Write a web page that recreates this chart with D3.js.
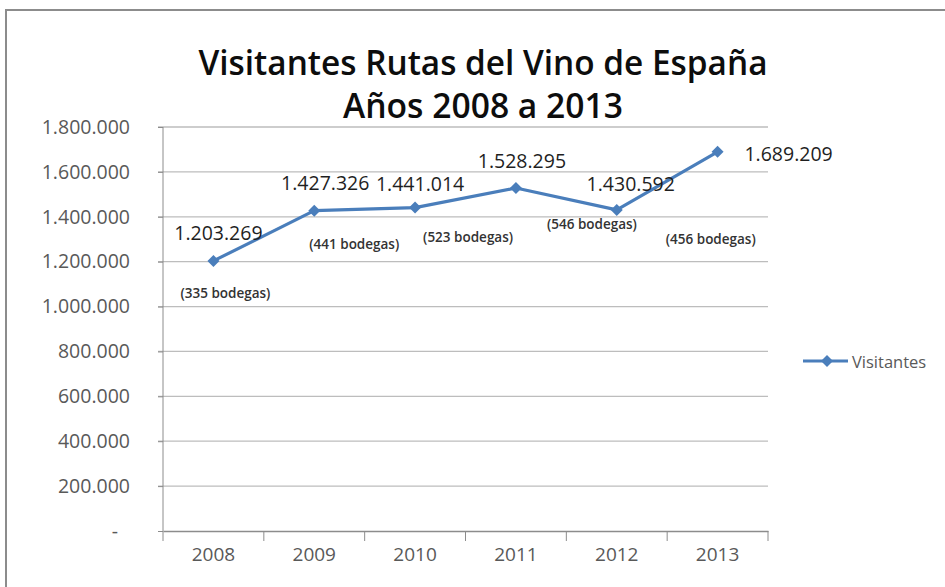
<!DOCTYPE html>
<html><head><meta charset="utf-8">
<script src="https://cdn.jsdelivr.net/npm/d3@7"></script>
<style>body{margin:0;background:#fff}svg{display:block}</style>
</head><body>
<script>
const years = ["2008","2009","2010","2011","2012","2013"];
const visitantes = [1203269, 1427326, 1441014, 1528295, 1430592, 1689209];
const bodegas = [335, 441, 523, 546, 456, null];
const yTicks = [0, 200000, 400000, 600000, 800000, 1000000, 1200000, 1400000, 1600000, 1800000];
const titleLines = ["Visitantes Rutas del Vino de España", "Años 2008 a 2013"];
const seriesName = "Visitantes";

// layout offsets for the labels (not data)
const valOff = [[5,-28],[11,-28],[5,-24],[6,-27],[14,-26],[71,2]];
const bodOff = [[12,32],[40,33],[53,29],[76,36],[94,29],[0,0]];

const W = 945, H = 587;
const svg = d3.select("body").append("svg").attr("width", W).attr("height", H);
const font = "'Open Sans', sans-serif";
const loc = d3.formatLocale({decimal:",", thousands:".", grouping:[3], currency:["",""]});
const fmt = loc.format(",d");

// frame
svg.append("path").attr("d", `M6,${H} V10 H${W}`).attr("fill","none").attr("stroke","#8c8c8c").attr("stroke-width",2);

const x = d3.scaleBand().domain(years).range([163, 768]);
const y = d3.scaleLinear().domain([0, 1800000]).range([531, 127]);
const cx = d => x(d) + x.bandwidth()/2;

// gridlines
svg.append("g").selectAll("line").data(yTicks.filter(t => t > 0)).join("line")
  .attr("x1", 158).attr("x2", 768).attr("y1", d => y(d)).attr("y2", d => y(d))
  .attr("stroke", "#bdbdbd").attr("stroke-width", 1.3);

// y axis
const yAxis = d3.axisLeft(y).tickValues(yTicks).tickSize(5).tickPadding(28)
  .tickFormat(d => d === 0 ? "-" : fmt(d));
const gy = svg.append("g").attr("transform", "translate(163,0)").call(yAxis);
gy.select(".domain").attr("stroke", "#8c8c8c").attr("d", "M0,127V531");
gy.selectAll(".tick line").attr("stroke", "#8c8c8c");
gy.selectAll("text").attr("font-family", font).attr("font-size", 19.5).attr("fill", "#595959");
gy.selectAll(".tick").filter(d => d === 0).select("text").attr("dx", -12);

// x axis
const xAxis = d3.axisBottom(x).tickSize(0).tickPadding(17);
const gx = svg.append("g").attr("transform", "translate(0,531)").call(xAxis);
gx.select(".domain").attr("stroke", "#8c8c8c").attr("stroke-width", 1.3);
gx.selectAll("text").attr("font-family", font).attr("font-size", 19).attr("fill", "#595959");
gx.append("g").selectAll("line").data(years.concat(["end"])).join("line")
  .attr("x1", (d,i) => i < years.length ? x(d) : x(years[years.length-1]) + x.bandwidth())
  .attr("x2", (d,i) => i < years.length ? x(d) : x(years[years.length-1]) + x.bandwidth())
  .attr("y1", 0).attr("y2", 10).attr("stroke", "#8c8c8c");

// line
const color = "#4a7ebb";
const line = d3.line().x((d,i) => cx(years[i])).y(d => y(d));
svg.append("path").datum(visitantes).attr("d", line).attr("fill","none")
  .attr("stroke", color).attr("stroke-width", 3.2).attr("stroke-linejoin","round");
const diamond = d3.symbol().type(d3.symbolSquare).size(72);
svg.append("g").selectAll("path").data(visitantes).join("path")
  .attr("d", diamond).attr("fill", color)
  .attr("transform", (d,i) => `translate(${cx(years[i])},${y(d)}) rotate(45)`);

// value labels
svg.append("g").selectAll("text").data(visitantes).join("text")
  .attr("x", (d,i) => cx(years[i]) + valOff[i][0])
  .attr("y", (d,i) => y(d) + valOff[i][1])
  .attr("text-anchor", "middle").attr("dominant-baseline", "central")
  .attr("font-family", font).attr("font-size", 19.5).attr("font-weight", 500).attr("fill", "#1f1f1f")
  .text(d => fmt(d));

// bodegas labels
svg.append("g").selectAll("text").data(bodegas.map((b,i) => ({b,i})).filter(d => d.b != null)).join("text")
  .attr("x", d => cx(years[d.i]) + bodOff[d.i][0])
  .attr("y", d => y(visitantes[d.i]) + bodOff[d.i][1])
  .attr("text-anchor", "middle").attr("dominant-baseline", "central")
  .attr("font-family", font).attr("font-size", 13.5).attr("font-weight", 600).attr("fill", "#333")
  .text(d => `(${d.b} bodegas)`);

// title
svg.append("text").attr("x", 483).attr("y", 75).attr("text-anchor","middle")
  .attr("font-family", font).attr("font-size", 35).attr("font-weight", 600).attr("fill", "#0d0d0d")
  .attr("textLength", 569).attr("lengthAdjust", "spacingAndGlyphs").text(titleLines[0]);
svg.append("text").attr("x", 483).attr("y", 118).attr("text-anchor","middle")
  .attr("font-family", font).attr("font-size", 35).attr("font-weight", 600).attr("fill", "#0d0d0d")
  .attr("textLength", 280).attr("lengthAdjust", "spacingAndGlyphs").text(titleLines[1]);

// legend
const lg = svg.append("g").attr("transform", "translate(803,361)");
lg.append("line").attr("x1", 0).attr("x2", 45).attr("y1", 0).attr("y2", 0).attr("stroke", color).attr("stroke-width", 3.2);
lg.append("path").attr("d", diamond).attr("fill", color).attr("transform", "translate(24,0) rotate(45)");
lg.append("text").attr("x", 49).attr("y", 0).attr("dominant-baseline", "central")
  .attr("font-family", font).attr("font-size", 16.5).attr("fill", "#595959").text(seriesName);
</script>
</body></html>
